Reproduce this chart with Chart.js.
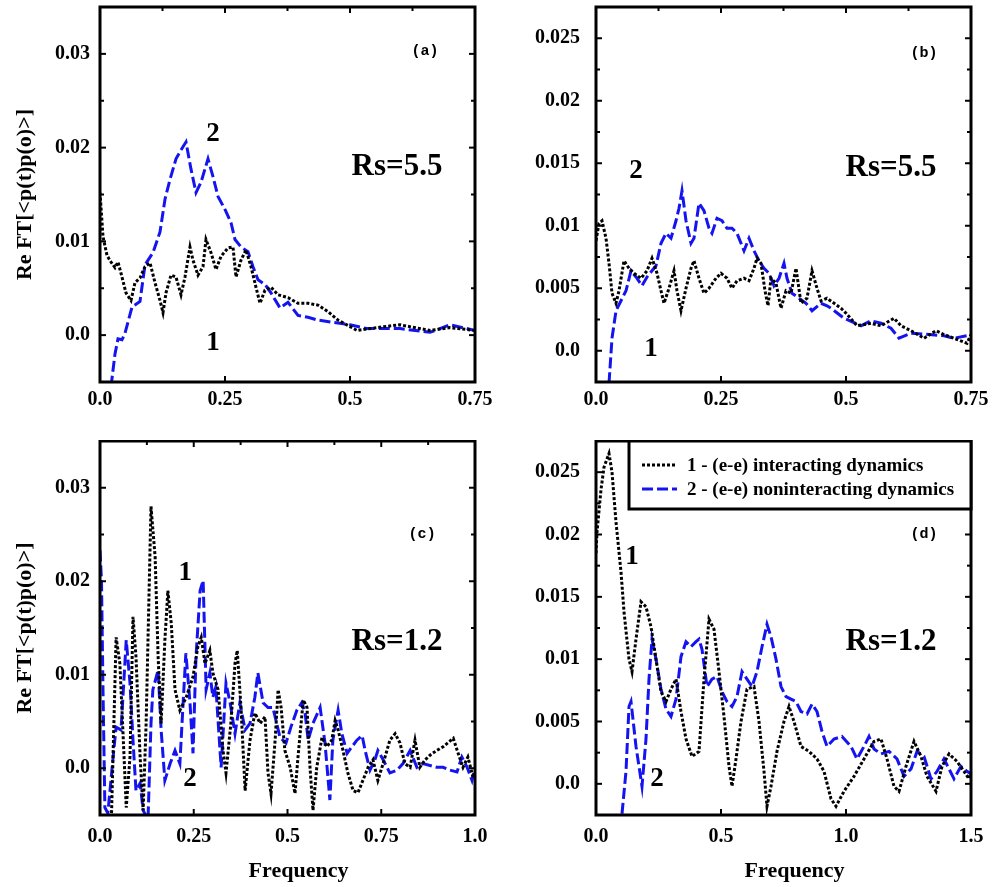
<!DOCTYPE html>
<html>
<head>
<meta charset="utf-8">
<title>Re FT spectra</title>
<script src="https://cdn.jsdelivr.net/npm/chart.js@4.4.0/dist/chart.umd.min.js"></script>
<style>
  html, body { margin: 0; padding: 0; background: #fff; }
  #page { position: relative; width: 994px; height: 887px; overflow: hidden; }
  .panel { position: absolute; }
  .panel canvas { display: block; }
</style>
</head>
<body>
<div id="page">
  <div class="panel" style="left:0;top:0"><canvas id="chartA" width="497" height="440"></canvas></div>
  <div class="panel" style="left:497px;top:0"><canvas id="chartB" width="497" height="440"></canvas></div>
  <div class="panel" style="left:0;top:440px"><canvas id="chartC" width="497" height="447"></canvas></div>
  <div class="panel" style="left:497px;top:440px"><canvas id="chartD" width="497" height="447"></canvas></div>
</div>
<script>
// ---- Data ----
// series 1 = (e-e) interacting dynamics, series 2 = (e-e) noninteracting dynamics

// (a) Rs=5.5
const freqA1 = [0, 0.006, 0.014, 0.022, 0.03, 0.036, 0.042, 0.052, 0.062, 0.07, 0.08, 0.09, 0.1, 0.11, 0.12, 0.126, 0.132, 0.142, 0.152, 0.162, 0.17, 0.18, 0.186, 0.196, 0.206, 0.212, 0.222, 0.232, 0.242, 0.256, 0.266, 0.272, 0.282, 0.292, 0.302, 0.312, 0.32, 0.33, 0.342, 0.356, 0.376, 0.396, 0.416, 0.436, 0.456, 0.476, 0.49, 0.514, 0.567, 0.6, 0.66, 0.7, 0.75];
const valA1 = [0.0152, 0.0105, 0.0085, 0.0078, 0.0072, 0.0078, 0.0066, 0.0045, 0.0037, 0.0056, 0.0061, 0.0073, 0.0077, 0.0056, 0.0037, 0.0024, 0.0045, 0.0064, 0.0062, 0.0043, 0.0062, 0.0094, 0.008, 0.0064, 0.0073, 0.0102, 0.0088, 0.007, 0.0084, 0.0093, 0.0094, 0.0062, 0.008, 0.0091, 0.0073, 0.0051, 0.0034, 0.0048, 0.0051, 0.0043, 0.004, 0.0034, 0.0034, 0.0032, 0.0025, 0.0016, 0.0012, 0.0005, 0.0009, 0.0011, 0.0005, 0.0008, 0.0005];
const freqA2 = [0.022, 0.03, 0.036, 0.044, 0.05, 0.064, 0.08, 0.09, 0.106, 0.12, 0.13, 0.14, 0.152, 0.166, 0.172, 0.182, 0.192, 0.202, 0.216, 0.226, 0.236, 0.25, 0.262, 0.27, 0.282, 0.296, 0.306, 0.316, 0.33, 0.342, 0.36, 0.376, 0.396, 0.416, 0.436, 0.462, 0.5, 0.533, 0.6, 0.66, 0.7, 0.75];
const valA2 = [-0.0055, -0.002, -0.0004, -0.0005, 0.0002, 0.003, 0.0036, 0.0075, 0.0088, 0.011, 0.0145, 0.0166, 0.0188, 0.0201, 0.0206, 0.0177, 0.0152, 0.0163, 0.0188, 0.0169, 0.0148, 0.0134, 0.012, 0.0102, 0.0094, 0.0089, 0.0073, 0.0059, 0.0054, 0.0045, 0.0029, 0.0035, 0.0021, 0.0019, 0.0016, 0.0014, 0.0011, 0.0007, 0.0007, 0.0003, 0.0011, 0.0005];

// (b) Rs=5.5
const freqB1 = [0, 0.006, 0.012, 0.02, 0.026, 0.032, 0.04, 0.046, 0.056, 0.066, 0.076, 0.09, 0.102, 0.112, 0.122, 0.13, 0.136, 0.146, 0.156, 0.162, 0.17, 0.18, 0.19, 0.196, 0.206, 0.216, 0.226, 0.24, 0.25, 0.262, 0.272, 0.282, 0.296, 0.306, 0.316, 0.322, 0.33, 0.338, 0.344, 0.35, 0.36, 0.37, 0.38, 0.39, 0.4, 0.41, 0.422, 0.432, 0.442, 0.45, 0.462, 0.49, 0.5, 0.522, 0.55, 0.57, 0.596, 0.61, 0.63, 0.656, 0.68, 0.696, 0.716, 0.742, 0.75];
const valB1 = [0.0088, 0.0102, 0.0104, 0.009, 0.007, 0.0046, 0.0038, 0.0048, 0.0072, 0.0066, 0.0062, 0.0058, 0.0064, 0.0074, 0.0062, 0.0048, 0.0038, 0.005, 0.0064, 0.0048, 0.0032, 0.005, 0.0066, 0.0072, 0.0058, 0.0046, 0.005, 0.0058, 0.0062, 0.0058, 0.005, 0.0056, 0.0058, 0.0056, 0.0066, 0.0074, 0.007, 0.0048, 0.0036, 0.0058, 0.0054, 0.0034, 0.0048, 0.0046, 0.0066, 0.0038, 0.0042, 0.0064, 0.005, 0.004, 0.0042, 0.0034, 0.003, 0.002, 0.0022, 0.002, 0.0026, 0.002, 0.0016, 0.001, 0.0016, 0.0013, 0.001, 0.0006, 0.0013];
const freqB2 = [0.026, 0.032, 0.04, 0.05, 0.06, 0.07, 0.08, 0.092, 0.102, 0.112, 0.12, 0.13, 0.14, 0.15, 0.16, 0.166, 0.172, 0.18, 0.19, 0.196, 0.206, 0.216, 0.226, 0.232, 0.242, 0.252, 0.262, 0.272, 0.282, 0.296, 0.306, 0.316, 0.326, 0.336, 0.346, 0.356, 0.366, 0.376, 0.382, 0.392, 0.406, 0.42, 0.432, 0.45, 0.462, 0.47, 0.496, 0.53, 0.55, 0.57, 0.59, 0.606, 0.63, 0.667, 0.696, 0.716, 0.742, 0.75];
const valB2 = [-0.0026, 0.001, 0.0032, 0.004, 0.0048, 0.0064, 0.0059, 0.0052, 0.0059, 0.0064, 0.0068, 0.0086, 0.0094, 0.009, 0.0104, 0.0114, 0.0128, 0.0104, 0.0086, 0.009, 0.0118, 0.0112, 0.0098, 0.0094, 0.0106, 0.0104, 0.0098, 0.0098, 0.0094, 0.008, 0.009, 0.008, 0.0072, 0.0066, 0.0062, 0.0052, 0.0058, 0.007, 0.0058, 0.0046, 0.0042, 0.0038, 0.0032, 0.0038, 0.0036, 0.0034, 0.0026, 0.002, 0.0024, 0.0022, 0.0018, 0.001, 0.0014, 0.0013, 0.0012, 0.001, 0.0012, 0.0012];

// (c) Rs=1.2
const freqC1 = [0.02, 0.03, 0.043, 0.053, 0.061, 0.07, 0.08, 0.088, 0.096, 0.107, 0.115, 0.123, 0.136, 0.147, 0.155, 0.163, 0.173, 0.181, 0.19, 0.2, 0.213, 0.23, 0.248, 0.261, 0.27, 0.28, 0.293, 0.301, 0.315, 0.328, 0.336, 0.349, 0.36, 0.366, 0.376, 0.387, 0.4, 0.413, 0.427, 0.44, 0.448, 0.456, 0.467, 0.475, 0.483, 0.493, 0.507, 0.52, 0.528, 0.542, 0.552, 0.56, 0.568, 0.578, 0.592, 0.605, 0.618, 0.627, 0.635, 0.648, 0.661, 0.675, 0.688, 0.701, 0.715, 0.728, 0.741, 0.755, 0.773, 0.787, 0.8, 0.813, 0.827, 0.84, 0.853, 0.867, 0.88, 0.898, 0.915, 0.942, 0.955, 0.968, 0.981, 0.995, 1.0];
const valC1 = [-0.006, -0.006, 0.014, 0.0112, 0.0041, -0.0042, 0.0012, 0.0162, 0.0119, 0.0012, -0.0045, 0.0048, 0.028, 0.0226, 0.0119, 0.0048, 0.0137, 0.019, 0.0155, 0.0084, 0.0062, 0.0076, 0.0098, 0.013, 0.014, 0.0112, 0.0126, 0.0102, 0.0084, 0.0019, -0.0005, 0.0048, 0.0112, 0.0126, 0.0065, -0.0024, 0.003, 0.0059, 0.0048, 0.0055, -0.0005, -0.0027, 0.003, 0.0084, 0.0065, 0.0019, 0.0001, -0.0027, 0.0012, 0.0073, 0.0065, 0.0001, -0.0045, 0.0001, 0.0033, 0.0023, 0.003, 0.0051, 0.0041, 0.0019, -0.0005, -0.0024, -0.0026, -0.0013, 0.0001, 0.0009, -0.0013, 0.0005, 0.003, 0.0037, 0.0027, 0.0005, 0.0001, 0.003, 0.0001, 0.0009, 0.0014, 0.0019, 0.0023, 0.0032, 0.0016, 0.0001, 0.0012, -0.001, -0.0005];
const freqC2 = [0, 0.004, 0.008, 0.013, 0.021, 0.035, 0.043, 0.056, 0.07, 0.08, 0.088, 0.096, 0.107, 0.115, 0.128, 0.136, 0.141, 0.155, 0.163, 0.173, 0.187, 0.2, 0.213, 0.221, 0.229, 0.24, 0.248, 0.256, 0.267, 0.275, 0.283, 0.293, 0.301, 0.309, 0.323, 0.336, 0.347, 0.36, 0.373, 0.387, 0.4, 0.413, 0.421, 0.435, 0.448, 0.461, 0.48, 0.496, 0.509, 0.525, 0.538, 0.547, 0.555, 0.568, 0.587, 0.6, 0.613, 0.621, 0.635, 0.645, 0.659, 0.672, 0.685, 0.699, 0.707, 0.72, 0.733, 0.741, 0.755, 0.773, 0.792, 0.808, 0.827, 0.845, 0.861, 0.88, 0.898, 0.915, 0.933, 0.952, 0.965, 0.979, 0.992, 1.0];
const valC2 = [0.0233, 0.02, 0.0084, -0.0042, -0.0048, 0.0012, 0.0044, 0.0041, 0.0137, 0.0091, 0.003, -0.0024, -0.0016, -0.0045, -0.0055, 0.0048, 0.0084, 0.0105, 0.0041, -0.0013, 0.0005, 0.0019, 0.0005, 0.0065, 0.0123, 0.007, 0.0016, 0.0119, 0.019, 0.0201, 0.0084, 0.0102, 0.0076, 0.0087, 0.0001, 0.0091, 0.007, 0.0037, 0.007, 0.0041, 0.0048, 0.0076, 0.0102, 0.007, 0.0065, 0.0065, 0.0033, 0.0027, 0.0044, 0.0062, 0.007, 0.0059, 0.003, 0.0048, 0.0065, 0.0027, -0.0034, 0.003, 0.0062, 0.0037, 0.0016, 0.0023, 0.003, 0.0035, 0.0019, -0.0002, 0.0009, 0.0019, 0.0009, -0.0005, -0.0002, 0.0005, 0.0019, 0.0001, 0.0005, 0.0003, 0.0001, 0.0001, -0.0002, -0.0004, 0.0012, 0.0001, -0.0013, 0.0001];

// (d) Rs=1.2
const freqD1 = [0, 0.004, 0.02, 0.032, 0.052, 0.064, 0.08, 0.1, 0.112, 0.132, 0.144, 0.16, 0.18, 0.2, 0.22, 0.24, 0.26, 0.28, 0.3, 0.32, 0.34, 0.36, 0.384, 0.412, 0.432, 0.452, 0.472, 0.492, 0.512, 0.532, 0.544, 0.56, 0.58, 0.604, 0.632, 0.652, 0.672, 0.684, 0.7, 0.724, 0.752, 0.772, 0.792, 0.82, 0.852, 0.884, 0.912, 0.94, 0.96, 0.992, 1.032, 1.072, 1.112, 1.14, 1.164, 1.192, 1.212, 1.24, 1.272, 1.3, 1.324, 1.36, 1.384, 1.412, 1.444, 1.472, 1.492, 1.5];
const valD1 = [0.0185, 0.0202, 0.0236, 0.0254, 0.0265, 0.025, 0.021, 0.017, 0.0138, 0.01, 0.009, 0.0116, 0.0146, 0.0142, 0.0126, 0.01, 0.0074, 0.0066, 0.0076, 0.0084, 0.0058, 0.0036, 0.0022, 0.0026, 0.0084, 0.0132, 0.0124, 0.009, 0.0054, 0.0014, -0.0002, 0.002, 0.005, 0.0076, 0.0078, 0.005, 0.001, -0.0018, -0.0002, 0.0026, 0.005, 0.0062, 0.005, 0.003, 0.0026, 0.002, 0.001, -0.0012, -0.0018, -0.0006, 0.0006, 0.002, 0.0034, 0.0036, 0.002, -0.0002, -0.0006, 0.0014, 0.0034, 0.0022, 0.0006, -0.0006, 0.0014, 0.0024, 0.0018, 0.001, 0.0004, 0.0008];
const freqD2 = [0.104, 0.12, 0.132, 0.14, 0.16, 0.172, 0.184, 0.2, 0.212, 0.224, 0.24, 0.26, 0.28, 0.3, 0.32, 0.34, 0.36, 0.38, 0.4, 0.412, 0.424, 0.444, 0.464, 0.484, 0.504, 0.524, 0.544, 0.564, 0.584, 0.604, 0.624, 0.644, 0.664, 0.684, 0.7, 0.72, 0.74, 0.76, 0.78, 0.8, 0.82, 0.844, 0.864, 0.884, 0.904, 0.924, 0.952, 0.984, 1.02, 1.044, 1.072, 1.092, 1.112, 1.14, 1.172, 1.204, 1.232, 1.26, 1.284, 1.312, 1.34, 1.364, 1.392, 1.412, 1.432, 1.46, 1.484, 1.5];
const valD2 = [-0.0024, 0.001, 0.0062, 0.0066, 0.003, 0.0014, -0.0002, 0.0036, 0.0084, 0.0116, 0.01, 0.0076, 0.006, 0.0054, 0.0068, 0.0102, 0.0114, 0.011, 0.0114, 0.0116, 0.0108, 0.0078, 0.0084, 0.0086, 0.0074, 0.0066, 0.0062, 0.007, 0.009, 0.0084, 0.0078, 0.009, 0.011, 0.0128, 0.0118, 0.01, 0.0078, 0.007, 0.0068, 0.0066, 0.0058, 0.0056, 0.0064, 0.0058, 0.0042, 0.003, 0.0036, 0.0038, 0.003, 0.002, 0.003, 0.0038, 0.0028, 0.0024, 0.0026, 0.002, 0.0006, 0.0012, 0.0026, 0.0022, 0.0004, 0.001, 0.002, 0.0012, 0.0004, 0.0014, 0.001, 0.0008];

// axis ticks
const xTicksTop = [0, 0.25, 0.5, 0.75];
const xLabelsTop = ['0.0', '0.25', '0.5', '0.75'];
const xTicksC = [0, 0.25, 0.5, 0.75, 1.0];
const xLabelsC = ['0.0', '0.25', '0.5', '0.75', '1.0'];
const xTicksD = [0, 0.5, 1.0, 1.5];
const xLabelsD = ['0.0', '0.5', '1.0', '1.5'];
const yTicksLeft = [0, 0.01, 0.02, 0.03];
const yLabelsLeft = ['0.0', '0.01', '0.02', '0.03'];
const yTicksRight = [0, 0.005, 0.01, 0.015, 0.02, 0.025];
const yLabelsRight = ['0.0', '0.005', '0.01', '0.015', '0.02', '0.025'];

const seriesNames = ['1 - (e-e) interacting dynamics', '2 - (e-e) noninteracting dynamics'];

// ---- Styling ----
const SERIF = '"Liberation Serif", "Times New Roman", serif';
const MONO = '"Liberation Mono", "Courier New", monospace';
const BLUE = '#1414f0';

function toPoints(xs, ys) {
  return xs.map((x, i) => ({ x: x, y: ys[i] }));
}

// Box frame with inward tick marks on all four sides
const framePlugin = {
  id: 'frame',
  afterDatasetsDraw(chart) {
    const { ctx, chartArea: a, scales: { x, y } } = chart;
    ctx.save();
    ctx.strokeStyle = '#000';
    ctx.lineWidth = 2;
    const seg = (x1, y1, x2, y2) => { ctx.beginPath(); ctx.moveTo(x1, y1); ctx.lineTo(x2, y2); ctx.stroke(); };
    const xs = x.ticks.map(t => t.value);
    const ys = y.ticks.map(t => t.value);
    xs.forEach((v, i) => {
      const px = x.getPixelForValue(v);
      seg(px, a.bottom, px, a.bottom - 6);
      seg(px, a.top, px, a.top + 6);
      if (i < xs.length - 1) {
        const mx = x.getPixelForValue((v + xs[i + 1]) / 2);
        seg(mx, a.top, mx, a.top + 4);
      }
    });
    ys.forEach((v, i) => {
      const py = y.getPixelForValue(v);
      seg(a.left, py, a.left + 6, py);
      seg(a.right, py, a.right - 6, py);
      const next = i < ys.length - 1 ? ys[i + 1] : v + (v - ys[i - 1]);
      const my = y.getPixelForValue((v + next) / 2);
      if (my > a.top + 2) {
        seg(a.left, my, a.left + 4, my);
        seg(a.right, my, a.right - 4, my);
      }
    });
    ctx.lineWidth = 3;
    ctx.strokeRect(a.left, a.top, a.right - a.left, a.bottom - a.top);
    ctx.restore();
  }
};

// Text annotations placed at data coordinates
const notesPlugin = {
  id: 'notes',
  afterDraw(chart, args, opts) {
    if (!opts.items) return;
    const { ctx, scales: { x, y } } = chart;
    const fonts = {
      big: 'bold 31px ' + SERIF,
      num: 'bold 27px ' + SERIF,
      tag: 'bold 15px ' + MONO
    };
    ctx.save();
    ctx.fillStyle = '#000';
    ctx.textAlign = 'center';
    ctx.textBaseline = 'middle';
    opts.items.forEach(n => {
      ctx.font = fonts[n.kind];
      ctx.fillText(n.text, x.getPixelForValue(n.x), y.getPixelForValue(n.y));
    });
    ctx.restore();
  }
};

// Boxed legend in the upper-right corner of the plot area
const boxLegendPlugin = {
  id: 'boxLegend',
  afterDraw(chart, args, opts) {
    if (!opts.show) return;
    const { ctx, chartArea: a } = chart;
    const left = a.left + opts.inset;
    const top = a.top;
    const h = opts.height;
    ctx.save();
    ctx.fillStyle = '#fff';
    ctx.fillRect(left, top, a.right - left, h);
    ctx.strokeStyle = '#000';
    ctx.lineWidth = 3;
    ctx.strokeRect(left, top, a.right - left, h);
    ctx.font = 'bold 19px ' + SERIF;
    ctx.textBaseline = 'middle';
    chart.data.datasets.forEach((ds, i) => {
      const ly = top + 24 + i * 24;
      ctx.strokeStyle = ds.borderColor;
      ctx.lineWidth = 3;
      ctx.setLineDash(ds.borderDash);
      ctx.beginPath();
      ctx.moveTo(left + 13, ly);
      ctx.lineTo(left + 48, ly);
      ctx.stroke();
      ctx.setLineDash([]);
      ctx.fillStyle = '#000';
      ctx.fillText(ds.label, left + 58, ly + 1);
    });
    ctx.restore();
  }
};

function makePanel(id, p) {
  const tickFont = { family: SERIF, size: 20, weight: 'bold' };
  return new Chart(document.getElementById(id), {
    type: 'line',
    data: {
      datasets: [
        {
          label: seriesNames[0],
          data: toPoints(p.x1, p.y1),
          borderColor: '#000',
          borderWidth: 3,
          borderDash: [3, 2],
          pointRadius: 0,
          tension: 0
        },
        {
          label: seriesNames[1],
          data: toPoints(p.x2, p.y2),
          borderColor: BLUE,
          borderWidth: 3,
          borderDash: [11, 4],
          pointRadius: 0,
          tension: 0
        }
      ]
    },
    options: {
      responsive: false,
      animation: false,
      events: [],
      layout: { padding: p.pad },
      plugins: {
        legend: { display: false },
        tooltip: { enabled: false },
        notes: { items: p.notes },
        boxLegend: p.legend || { show: false }
      },
      scales: {
        x: {
          type: 'linear',
          min: p.xMin,
          max: p.xMax,
          grid: { display: false, drawTicks: false, tickLength: 0 },
          border: { display: false },
          afterBuildTicks: s => { s.ticks = p.xTicks.map(v => ({ value: v })); },
          afterFit: s => { s.height = p.xAxisH; s.paddingLeft = 0; s.paddingRight = 0; },
          ticks: {
            autoSkip: false,
            maxRotation: 0,
            padding: p.xPad,
            color: '#000',
            font: tickFont,
            callback: (v, i) => p.xLabels[i]
          },
          title: {
            display: !!p.xTitle,
            // two en spaces nudge the centred title right, as in the original figure
            text: p.xTitle ? '\u2002\u2002' + p.xTitle : '',
            color: '#000',
            font: { family: SERIF, size: 22, weight: 'bold' },
            padding: { top: 0, bottom: 2 }
          }
        },
        y: {
          type: 'linear',
          min: p.yMin,
          max: p.yMax,
          grid: { display: false, drawTicks: false, tickLength: 0 },
          border: { display: false },
          afterBuildTicks: s => { s.ticks = p.yTicks.map(v => ({ value: v })); },
          afterFit: s => { s.width = p.yAxisW; s.paddingTop = 0; s.paddingBottom = 0; },
          ticks: {
            padding: p.yPad,
            color: '#000',
            font: tickFont,
            callback: (v, i) => p.yLabels[i]
          },
          title: {
            display: !!p.yTitle,
            text: p.yTitle || '',
            color: '#000',
            font: { family: SERIF, size: 22, weight: 'bold' },
            padding: { top: 12, bottom: 0 }
          }
        }
      }
    },
    plugins: [framePlugin, notesPlugin, boxLegendPlugin]
  });
}

const yTitle = 'Re FT[<p(t)p(o)>]';

makePanel('chartA', {
  x1: freqA1, y1: valA1, x2: freqA2, y2: valA2,
  xMin: 0, xMax: 0.75, yMin: -0.005, yMax: 0.035,
  xTicks: xTicksTop, xLabels: xLabelsTop, yTicks: yTicksLeft, yLabels: yLabelsLeft,
  pad: { left: 0, top: 7, right: 22, bottom: 0 },
  yAxisW: 100, xAxisH: 58, xPad: 6, yPad: 10, yTitle: yTitle,
  notes: [
    { text: '(a)', x: 0.65, y: 0.0303, kind: 'tag' },
    { text: '2', x: 0.226, y: 0.0214, kind: 'num' },
    { text: '1', x: 0.226, y: -0.0008, kind: 'num' },
    { text: 'Rs=5.5', x: 0.594, y: 0.0179, kind: 'big' }
  ]
});

makePanel('chartB', {
  x1: freqB1, y1: valB1, x2: freqB2, y2: valB2,
  xMin: 0, xMax: 0.75, yMin: -0.0025, yMax: 0.0275,
  xTicks: xTicksTop, xLabels: xLabelsTop, yTicks: yTicksRight, yLabels: yLabelsRight,
  pad: { left: 0, top: 7, right: 23, bottom: 0 },
  yAxisW: 99, xAxisH: 58, xPad: 6, yPad: 16,
  notes: [
    { text: '(b)', x: 0.656, y: 0.0238, kind: 'tag' },
    { text: '2', x: 0.08, y: 0.0144, kind: 'num' },
    { text: '1', x: 0.11, y: 0.0001, kind: 'num' },
    { text: 'Rs=5.5', x: 0.59, y: 0.0146, kind: 'big' }
  ]
});

makePanel('chartC', {
  x1: freqC1, y1: valC1, x2: freqC2, y2: valC2,
  xMin: 0, xMax: 1.0, yMin: -0.005, yMax: 0.035,
  xTicks: xTicksC, xLabels: xLabelsC, yTicks: yTicksLeft, yLabels: yLabelsLeft,
  pad: { left: 0, top: 1, right: 22, bottom: 0 },
  yAxisW: 100, xAxisH: 72, xPad: 10, yPad: 10, yTitle: yTitle, xTitle: 'Frequency',
  notes: [
    { text: '(c)', x: 0.859, y: 0.025, kind: 'tag' },
    { text: '1', x: 0.227, y: 0.0209, kind: 'num' },
    { text: '2', x: 0.24, y: -0.0011, kind: 'num' },
    { text: 'Rs=1.2', x: 0.792, y: 0.0135, kind: 'big' }
  ]
});

makePanel('chartD', {
  x1: freqD1, y1: valD1, x2: freqD2, y2: valD2,
  xMin: 0, xMax: 1.5, yMin: -0.0025, yMax: 0.0275,
  xTicks: xTicksD, xLabels: xLabelsD, yTicks: yTicksRight, yLabels: yLabelsRight,
  pad: { left: 0, top: 1, right: 23, bottom: 0 },
  yAxisW: 99, xAxisH: 72, xPad: 10, yPad: 16, xTitle: 'Frequency',
  legend: { show: true, inset: 33, height: 68 },
  notes: [
    { text: '(d)', x: 1.312, y: 0.02, kind: 'tag' },
    { text: '1', x: 0.144, y: 0.0182, kind: 'num' },
    { text: '2', x: 0.244, y: 0.0004, kind: 'num' },
    { text: 'Rs=1.2', x: 1.18, y: 0.0114, kind: 'big' }
  ]
});
</script>
</body>
</html>
